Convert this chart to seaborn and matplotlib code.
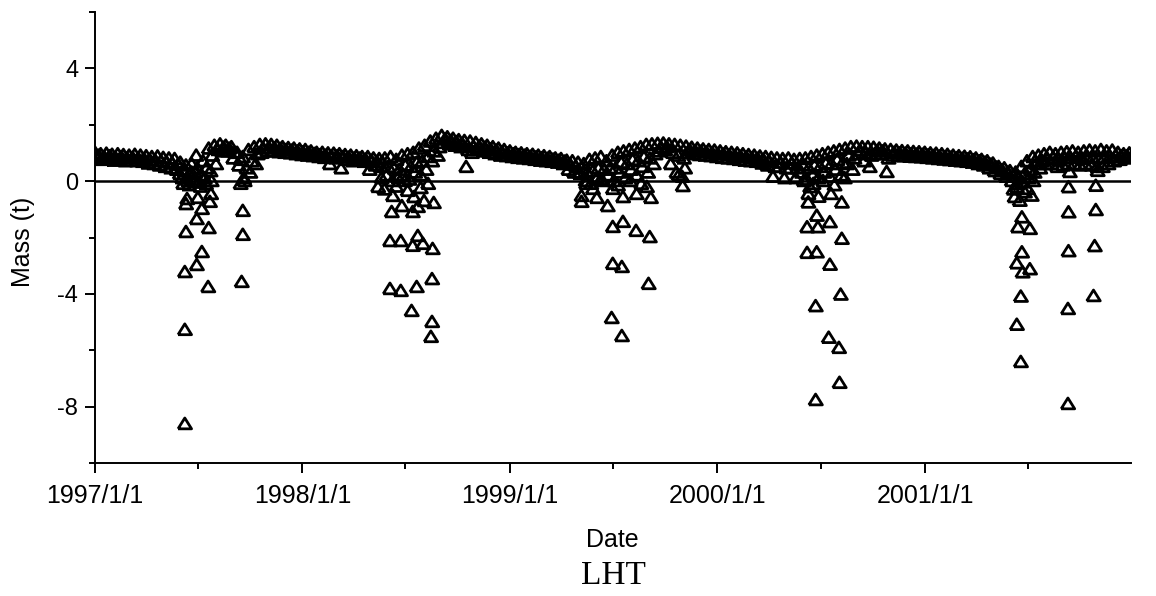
import numpy as np
import pandas as pd
import matplotlib
matplotlib.use("Agg")
import matplotlib.pyplot as plt
import matplotlib.dates as mdates
from matplotlib.ticker import MultipleLocator, FuncFormatter
import seaborn as sns

# ---------------- data ----------------
# Dense daily band, sampled every 10 days: upper edge, middle and lower edge (t)
band_upper_start = "1997-01-01"
band_middle_start = "1997-01-07"
band_lower_start = "1997-01-04"
band_upper = [
    1.0, 0.95, 0.97, 0.93, 0.95, 0.92, 0.9, 0.93, 0.9, 0.88, 0.85, 0.87, 0.82, 0.8, 0.78,
    0.65, 0.55, 0.6, 0.45, 0.7, 1.15, 1.25,
    1.3, 1.25, 1.2, 1.0, 0.85, 1.1, 1.2,
    1.28, 1.3, 1.28, 1.25, 1.2, 1.17, 1.15, 1.12, 1.1, 1.05, 1.0,
    1.0, 0.98, 0.97, 0.95, 0.92, 0.9, 0.88, 0.85, 0.85, 0.8, 0.78,
    0.8, 0.85, 0.75, 0.9, 0.95, 1.0, 1.15, 1.25, 1.4, 1.5,
    1.6, 1.55, 1.5, 1.45, 1.42, 1.4, 1.35, 1.3, 1.25, 1.2,
    1.15, 1.1, 1.05, 1.0, 0.98, 0.95, 0.93, 0.9, 0.88, 0.85, 0.8, 0.78, 0.72, 0.7, 0.65,
    0.6, 0.75, 0.8, 0.85, 0.7, 0.9, 1.0, 1.05, 1.1, 1.15, 1.2, 1.28, 1.3,
    1.32, 1.33, 1.3, 1.28, 1.25, 1.22, 1.18, 1.15, 1.12, 1.1, 1.08, 1.05,
    1.02, 1.0, 0.98, 0.95, 0.92, 0.9, 0.87, 0.85, 0.82, 0.8, 0.78, 0.8, 0.75, 0.78,
    0.8, 0.85, 0.9, 0.95, 1.0, 1.05, 1.1, 1.15, 1.2, 1.22, 1.2,
    1.2, 1.18, 1.15, 1.12, 1.1, 1.08, 1.06, 1.05, 1.03, 1.02, 1.0,
    0.98, 0.97, 0.95, 0.93, 0.9, 0.88, 0.86, 0.84, 0.8, 0.75, 0.7, 0.62, 0.5, 0.45, 0.35,
    0.3, 0.5, 0.7, 0.85, 0.9, 0.95, 1.0, 0.95, 1.0, 1.02, 1.05,
    1.0, 1.05, 1.08, 1.05, 1.1, 1.05, 1.08, 1.0, 0.95, 0.98,
]
band_middle = [
    0.9, 0.85, 0.88, 0.82, 0.85, 0.8, 0.82, 0.8, 0.78, 0.75, 0.72, 0.7, 0.66, 0.62, 0.58,
    0.35, 0.25, 0.3, 0.2, 0.45, 0.9, 1.1,
    1.18, 1.15, 1.0, 0.75, 0.45, 0.7, 0.95,
    1.15, 1.18, 1.16, 1.14, 1.1, 1.08, 1.05, 1.02, 1.0, 0.96, 0.92,
    0.9, 0.88, 0.88, 0.85, 0.83, 0.8, 0.8, 0.76, 0.72, 0.68, 0.65,
    0.5, 0.45, 0.4, 0.55, 0.5, 0.65, 0.7, 0.85, 1.05, 1.2,
    1.48, 1.42, 1.38, 1.32, 1.1, 1.2, 1.22, 1.18, 1.12, 1.08,
    1.02, 0.98, 0.95, 0.92, 0.9, 0.86, 0.84, 0.81, 0.79, 0.76, 0.72, 0.69, 0.58, 0.5, 0.45,
    0.3, 0.35, 0.45, 0.4, 0.45, 0.45, 0.65, 0.6, 0.75, 0.7, 0.85, 0.8, 0.95,
    1.18, 1.2, 1.0, 0.9, 0.8, 1.1, 1.06, 1.04, 1.01, 0.99, 0.96, 0.94,
    0.91, 0.89, 0.86, 0.84, 0.81, 0.79, 0.75, 0.7, 0.5, 0.65, 0.45, 0.62, 0.45, 0.55,
    0.45, 0.55, 0.5, 0.62, 0.6, 0.75, 0.65, 0.9, 0.8, 1.08, 0.98,
    0.9, 1.06, 1.05, 0.8, 1.0, 0.98, 0.97, 0.95, 0.94, 0.93, 0.91,
    0.89, 0.87, 0.85, 0.83, 0.81, 0.79, 0.77, 0.74, 0.7, 0.65, 0.58, 0.48, 0.38, 0.3, 0.18,
    0.1, 0.25, 0.4, 0.6, 0.7, 0.78, 0.82, 0.75, 0.8, 0.82, 0.85,
    0.78, 0.85, 0.82, 0.8, 0.82, 0.85, 0.9, 0.88, 0.88,
]
band_lower = [
    0.8, 0.75, 0.78, 0.72, 0.74, 0.7, 0.72, 0.7, 0.68, 0.62, 0.6, 0.55, 0.5, 0.45, 0.4,
    0.1, 0.0, 0.05, -0.05, 0.1, 0.35, 0.6,
    1.05, 1.05, 0.8, 0.55, 0.0, 0.3, 0.6,
    1.0, 1.05, 1.05, 1.02, 1.0, 0.98, 0.95, 0.92, 0.9, 0.88, 0.85,
    0.82, 0.6, 0.8, 0.45, 0.75, 0.7, 0.72, 0.68, 0.4, 0.55, 0.5,
    0.2, 0.0, 0.1, 0.2, 0.05, 0.3, 0.2, 0.4, 0.7, 0.9,
    1.35, 1.3, 1.25, 1.2, 0.5, 1.0, 1.1, 1.05, 1.0, 0.95,
    0.9, 0.88, 0.85, 0.82, 0.8, 0.78, 0.75, 0.72, 0.7, 0.68, 0.65, 0.6, 0.4, 0.3, 0.25,
    0.0, -0.1, 0.1, 0.0, 0.2, 0.0, 0.3, 0.1, 0.4, 0.2, 0.5, 0.3, 0.6,
    1.05, 1.1, 0.6, 0.3, 0.15, 1.0, 0.95, 0.92, 0.9, 0.88, 0.85, 0.82,
    0.8, 0.78, 0.75, 0.72, 0.7, 0.68, 0.62, 0.55, 0.15, 0.5, 0.1, 0.45, 0.1, 0.3,
    0.05, 0.2, 0.1, 0.3, 0.15, 0.4, 0.2, 0.6, 0.4, 0.95, 0.7,
    0.5, 0.95, 0.95, 0.32, 0.9, 0.88, 0.88, 0.86, 0.85, 0.84, 0.82,
    0.8, 0.78, 0.76, 0.74, 0.72, 0.7, 0.68, 0.65, 0.6, 0.55, 0.45, 0.35, 0.25, 0.15, 0.0,
    -0.1, -0.05, 0.1, 0.3, 0.45, 0.6, 0.6, 0.5, 0.55, 0.6, 0.6,
    0.55, 0.6, 0.55, 0.5, 0.5, 0.6, 0.7, 0.75, 0.8, 0.82,
]

# Scattered low values during the summer dips
dip_dates = [
    # 1997
    "1997-06-08", "1997-06-08", "1997-06-08", "1997-06-10", "1997-06-12", "1997-06-10",
    "1997-06-29", "1997-07-08", "1997-07-19", "1997-07-20", "1997-06-29", "1997-07-08",
    "1997-07-01", "1997-07-22", "1997-07-24", "1997-09-18", "1997-09-18", "1997-09-16",
    "1997-06-05", "1997-06-15", "1997-06-25", "1997-07-05", "1997-07-15", "1997-07-25",
    "1997-09-14", "1997-09-20", "1997-05-30", "1997-06-20", "1997-06-28",
    # 1998
    "1998-06-04", "1998-06-23", "1998-07-23", "1998-07-14", "1998-08-01", "1998-08-18",
    "1998-06-04", "1998-06-23", "1998-07-21", "1998-08-17", "1998-07-12", "1998-08-17",
    "1998-08-15", "1998-06-07", "1998-06-25", "1998-07-14", "1998-08-03", "1998-08-20",
    "1998-07-16", "1998-06-09", "1998-05-14", "1998-07-23",
    "1998-05-25", "1998-06-15", "1998-07-05", "1998-07-28", "1998-08-10", "1998-05-20", "1998-06-30",
    # 1999
    "1999-07-01", "1999-07-19", "1999-08-11", "1999-09-04", "1999-07-01", "1999-07-17",
    "1999-09-02", "1999-06-29", "1999-07-17", "1999-05-07", "1999-06-03", "1999-06-22",
    "1999-07-19", "1999-08-12", "1999-09-06", "1999-08-30", "1999-05-07", "1999-05-27",
    "1999-07-01", "1999-11-01",
    "1999-05-15", "1999-06-10", "1999-07-10", "1999-08-01", "1999-08-20", "1999-10-25", "1999-11-05",
    # 2000
    "2000-06-07", "2000-06-26", "2000-06-24", "2000-07-17", "2000-08-07", "2000-06-07",
    "2000-06-24", "2000-07-17", "2000-08-05", "2000-06-22", "2000-07-15", "2000-08-02",
    "2000-08-03", "2000-06-22", "2000-06-09", "2000-06-27", "2000-07-19", "2000-08-07",
    "2000-06-09", "2000-06-12",
    "2000-06-01", "2000-06-18", "2000-07-05", "2000-07-25", "2000-08-12",
    # 2001
    "2001-06-20", "2001-06-13", "2001-07-04", "2001-06-20", "2001-06-11", "2001-07-04",
    "2001-06-21", "2001-06-18", "2001-06-11", "2001-06-18", "2001-06-07", "2001-06-16",
    "2001-07-07", "2001-06-11", "2001-06-30", "2001-09-10", "2001-09-10", "2001-09-10",
    "2001-09-09", "2001-09-09", "2001-10-28", "2001-10-28", "2001-10-26", "2001-10-24",
    "2001-10-31", "2001-09-12",
    "2001-06-25", "2001-06-05", "2001-07-10",
]
dip_values = [
    # 1997
    -8.62, -5.28, -3.23, -1.81, -0.64, -0.82,
    -2.98, -2.52, -3.76, -1.67, -1.35, -0.99,
    -0.60, -0.74, -0.46, -1.06, -1.91, -3.58,
    -0.1, -0.15, -0.05, -0.2, -0.1, 0.0,
    -0.1, 0.1, 0.25, 0.3, 0.9,
    # 1998
    -2.13, -2.13, -1.95, -2.30, -2.23, -2.41,
    -3.83, -3.90, -3.76, -3.48, -4.61, -5.00,
    -5.53, -1.10, -0.89, -1.10, -0.71, -0.78,
    -0.57, -0.53, -0.21, -0.92,
    -0.3, -0.2, -0.35, -0.25, -0.1, 0.1, 0.0,
    # 1999
    -1.63, -1.45, -1.77, -1.99, -2.94, -3.05,
    -3.65, -4.86, -5.50, -0.74, -0.60, -0.89,
    -0.57, -0.46, -0.60, -0.21, -0.53, -0.28,
    -0.28, -0.18,
    -0.1, 0.05, -0.15, 0.0, -0.1, 0.2, 0.45,
    # 2000
    -1.64, -1.64, -1.23, -1.46, -2.05, -2.55,
    -2.53, -2.97, -4.03, -4.44, -5.56, -5.92,
    -7.16, -7.77, -0.76, -0.56, -0.46, -0.76,
    -0.46, -0.22,
    0.0, -0.1, 0.0, -0.15, 0.1,
    # 2001
    -1.29, -1.64, -1.70, -2.53, -2.92, -3.13,
    -3.24, -4.10, -5.10, -6.42, -0.57, -0.70,
    -0.52, -0.22, -0.28, -0.22, -1.11, -2.49,
    -4.54, -7.91, -0.17, -1.03, -2.31, -4.08,
    0.36, 0.32,
    -0.4, -0.3, 0.0,
]

# ---------------- build table ----------------
upper_dates = pd.date_range(band_upper_start, periods=len(band_upper), freq="10D")
middle_dates = pd.date_range(band_middle_start, periods=len(band_middle), freq="10D")
lower_dates = pd.date_range(band_lower_start, periods=len(band_lower), freq="10D")
df = pd.concat([
    pd.DataFrame({"Date": upper_dates, "Mass": band_upper}),
    pd.DataFrame({"Date": middle_dates, "Mass": band_middle}),
    pd.DataFrame({"Date": lower_dates, "Mass": band_lower}),
    pd.DataFrame({"Date": pd.to_datetime(dip_dates), "Mass": dip_values}),
], ignore_index=True)

# ---------------- style ----------------
sns.set_style("ticks")
plt.rcParams["font.family"] = ["Liberation Sans", "DejaVu Sans"]
plt.rcParams["text.color"] = "black"
plt.rcParams["axes.labelcolor"] = "black"
plt.rcParams["xtick.color"] = "black"
plt.rcParams["ytick.color"] = "black"

fig = plt.figure(figsize=(11.56, 5.96), dpi=100)
ax = fig.add_axes([95 / 1156, 1 - 463 / 596, (1131 - 95) / 1156, (463 - 12) / 596])

ax.axhline(0, color="black", lw=1.8, zorder=1)

tri = [(-1, -0.7), (1, -0.7), (0, 0.9), (-1, -0.7)]
sns.scatterplot(data=df, x="Date", y="Mass", ax=ax, marker=tri, s=95,
                facecolor="none", edgecolor="black", linewidth=2.0, zorder=3)

ax.set_xlim(pd.Timestamp("1997-01-01"), pd.Timestamp("2001-12-29"))
ax.set_ylim(-10, 6)

ax.xaxis.set_major_locator(mdates.YearLocator())
ax.xaxis.set_minor_locator(mdates.MonthLocator(bymonth=7))
ax.xaxis.set_major_formatter(FuncFormatter(
    lambda v, p: "{}/{}/{}".format(mdates.num2date(v).year, mdates.num2date(v).month,
                                   mdates.num2date(v).day)))
ax.yaxis.set_major_locator(MultipleLocator(4))
ax.yaxis.set_minor_locator(MultipleLocator(2))
ax.yaxis.set_major_formatter(FuncFormatter(lambda v, p: "{:d}".format(int(round(v)))))

for s in ["top", "right"]:
    ax.spines[s].set_visible(False)
for s in ["left", "bottom"]:
    ax.spines[s].set_linewidth(1.4)
    ax.spines[s].set_color("black")

ax.tick_params(axis="both", which="major", direction="out", length=7, width=1.4,
               color="black", labelcolor="black")
ax.tick_params(axis="both", which="minor", direction="out", length=4, width=1.4,
               color="black")
ax.tick_params(axis="x", which="major", labelsize=18, pad=8)
ax.tick_params(axis="y", which="major", labelsize=17, pad=5)

ax.set_xlabel("Date", fontsize=18, color="black")
ax.xaxis.set_label_coords((612 - 95) / 1036, (463 - 528) / 451)
ax.set_ylabel("Mass (t)", fontsize=18, color="black")
ax.yaxis.set_label_coords((35 - 95) / 1036, (463 - 242) / 451)

fig.text(613 / 1156, 1 - 576 / 596, "LHT", family=["Liberation Serif", "DejaVu Serif"],
         fontsize=24, ha="center", va="center", color="black")

fig.savefig("out.png", dpi=100)
